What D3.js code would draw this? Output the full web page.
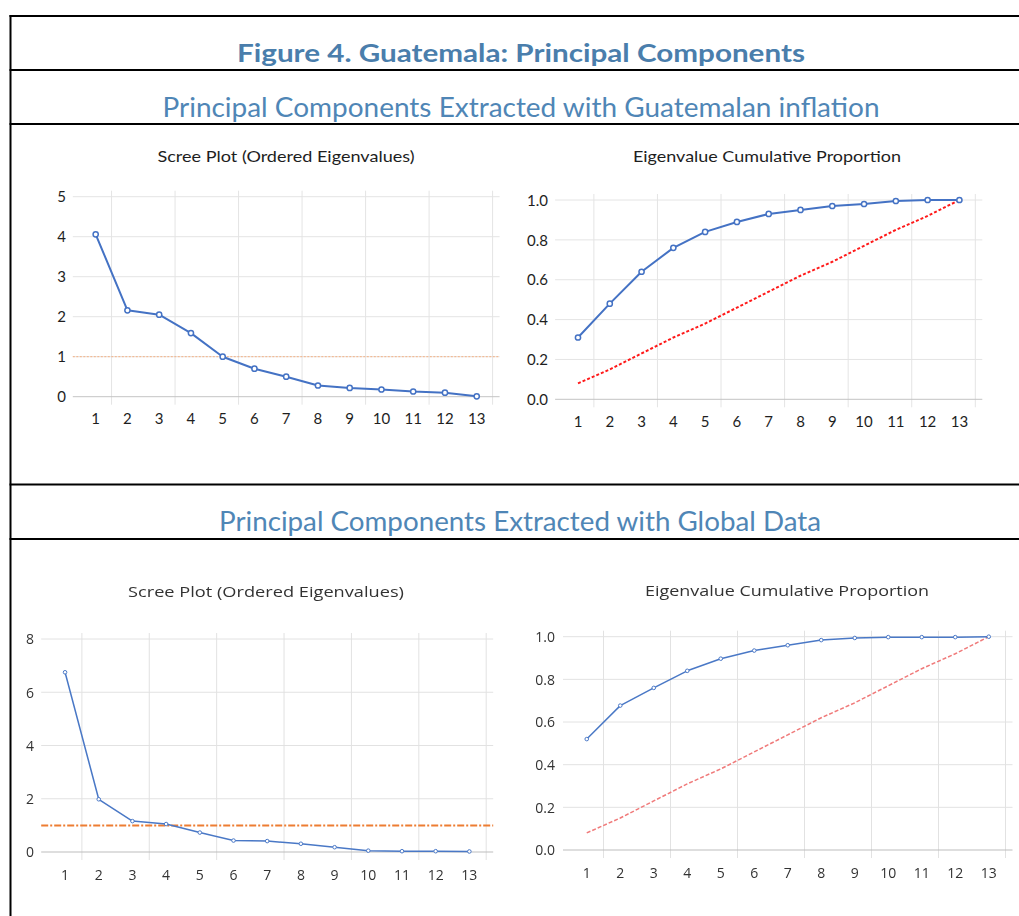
<!DOCTYPE html>
<html>
<head>
<meta charset="utf-8">
<script src="https://cdn.jsdelivr.net/npm/d3@7"></script>
<style>
  body { margin: 0; background: #ffffff; }
  svg { display: block; }
</style>
</head>
<body>
<svg id="fig" width="1019" height="916"></svg>
<script>
// ---- data ----
const components = ["1", "2", "3", "4", "5", "6", "7", "8", "9", "10", "11", "12", "13"];

// Guatemalan inflation block
const screeInflation = [4.06, 2.16, 2.05, 1.59, 1.00, 0.70, 0.50, 0.28, 0.22, 0.18, 0.13, 0.10, 0.01];
const cumInflation   = [0.31, 0.48, 0.64, 0.76, 0.84, 0.89, 0.93, 0.95, 0.97, 0.98, 0.995, 1.00, 1.00];
const equalInflation = [0.08, 0.15, 0.23, 0.31, 0.38, 0.46, 0.54, 0.62, 0.69, 0.77, 0.85, 0.92, 1.00];

// Global data block
const screeGlobal = [6.75, 1.98, 1.16, 1.05, 0.73, 0.43, 0.41, 0.31, 0.18, 0.05, 0.03, 0.03, 0.02];
const cumGlobal   = [0.52, 0.677, 0.76, 0.84, 0.897, 0.935, 0.96, 0.984, 0.994, 0.998, 0.998, 0.998, 1.00];
const equalGlobal = [0.08, 0.15, 0.23, 0.31, 0.38, 0.46, 0.54, 0.62, 0.69, 0.77, 0.85, 0.92, 1.00];

const screeTicksInflation = [0, 1, 2, 3, 4, 5];
const screeTicksGlobal    = [0, 2, 4, 6, 8];
const proportionTicks     = [0, 0.2, 0.4, 0.6, 0.8, 1.0];
const kaiserCutoff = 1;

const figureTitle = "Figure 4. Guatemala: Principal Components";
const sectionTitles = [
  "Principal Components Extracted with Guatemalan inflation",
  "Principal Components Extracted with Global Data"
];
const screeTitle = "Scree Plot (Ordered Eigenvalues)";
const cumTitle = "Eigenvalue Cumulative Proportion";

// ---- page frame ----
const svg = d3.select("#fig");
svg.append("rect").attr("width", 1019).attr("height", 916).attr("fill", "#ffffff");

const defs = svg.append("defs");
defs.append("filter").attr("id", "soft")
  .attr("x", "-5%").attr("y", "-5%").attr("width", "110%").attr("height", "110%")
  .append("feGaussianBlur").attr("stdDeviation", 0.45);

const frame = svg.append("g").attr("stroke", "#000").attr("stroke-width", 2).attr("fill", "none");
[16, 70, 124, 484.5, 539].forEach(yy => {
  frame.append("line").attr("x1", 9.5).attr("x2", 1019).attr("y1", yy).attr("y2", yy);
});
frame.append("line").attr("x1", 10.5).attr("x2", 10.5).attr("y1", 15).attr("y2", 916);

const headBlue = "#4a7eac";
svg.append("text").text(figureTitle)
  .attr("x", 521).attr("y", 62).attr("text-anchor", "middle")
  .attr("font-family", "Lato, 'Open Sans', sans-serif").attr("font-weight", 700)
  .attr("font-size", 24).attr("fill", headBlue)
  .attr("textLength", 568).attr("lengthAdjust", "spacingAndGlyphs");

svg.append("text").text(sectionTitles[0])
  .attr("x", 521).attr("y", 117).attr("text-anchor", "middle")
  .attr("font-family", "Lato, 'Open Sans', sans-serif").attr("font-weight", 400)
  .attr("font-size", 26).attr("fill", "#4f86b6")
  .attr("textLength", 717).attr("lengthAdjust", "spacingAndGlyphs");

svg.append("text").text(sectionTitles[1])
  .attr("x", 520).attr("y", 531).attr("text-anchor", "middle")
  .attr("font-family", "Lato, 'Open Sans', sans-serif").attr("font-weight", 400)
  .attr("font-size", 26).attr("fill", "#4f86b6")
  .attr("textLength", 602).attr("lengthAdjust", "spacingAndGlyphs");

// ---- one chart panel ----
function drawPanel(g, o) {
  const x = d3.scaleBand().domain(components).range([o.x0, o.x1]).padding(0);
  const y = d3.scaleLinear().domain([0, o.yMax]).range([o.y0, o.y1]);
  const bw = x.bandwidth();
  const cx = c => x(c) + bw / 2;
  const gl0 = o.x0 - o.ext, gl1 = o.x1 + o.ext;

  // chart title
  g.append("text").text(o.title)
    .attr("x", o.titleX).attr("y", o.titleY).attr("text-anchor", "middle")
    .attr("font-family", o.font).attr("font-size", o.titleSize).attr("fill", o.text)
    .attr("textLength", o.titleLen).attr("lengthAdjust", "spacingAndGlyphs");

  // horizontal gridlines
  g.append("g").selectAll("line").data(o.yTicks.filter(t => t > 0)).join("line")
    .attr("x1", gl0).attr("x2", gl1)
    .attr("y1", d => y(d)).attr("y2", d => y(d))
    .attr("stroke", o.grid).attr("stroke-width", 1);

  // vertical gridlines on every second category boundary
  const edges = components.filter((c, i) => i % 2 === 0).map(c => x(c) + bw);
  g.append("g").selectAll("line").data(edges).join("line")
    .attr("x1", d => d).attr("x2", d => d)
    .attr("y1", y(o.yMax) - 6).attr("y2", y(0) + 8)
    .attr("stroke", o.grid).attr("stroke-width", 1);

  // category axis line
  g.append("line").attr("x1", gl0).attr("x2", gl1)
    .attr("y1", y(0)).attr("y2", y(0))
    .attr("stroke", o.axis).attr("stroke-width", 1);

  // value axis labels
  const ya = g.append("g").attr("transform", `translate(${o.yLabelX},0)`)
    .call(d3.axisLeft(y).tickValues(o.yTicks).tickSize(0).tickPadding(0).tickFormat(o.fmt));
  ya.select(".domain").remove();
  ya.selectAll("text").attr("font-family", o.font).attr("font-size", o.tickSize)
    .attr("fill", o.text).attr("dy", "0.35em");

  // category axis labels
  const xa = g.append("g").attr("transform", `translate(0,${o.xLabelY})`)
    .call(d3.axisBottom(x).tickSize(0).tickPadding(0));
  xa.select(".domain").remove();
  xa.selectAll("text").attr("font-family", o.font).attr("font-size", o.tickSize)
    .attr("fill", o.text).attr("dy", "0.35em");

  // reference line (Kaiser cutoff or equal-share diagonal)
  if (o.cutoff !== undefined) {
    g.append("line").attr("x1", gl0).attr("x2", gl1)
      .attr("y1", y(o.cutoff)).attr("y2", y(o.cutoff))
      .attr("stroke", o.refColor).attr("stroke-width", o.refWidth)
      .attr("stroke-dasharray", o.refDash);
  }
  if (o.diagonal) {
    g.append("path").datum(o.diagonal)
      .attr("d", d3.line().x((d, i) => cx(components[i])).y(d => y(d)))
      .attr("fill", "none").attr("stroke", o.refColor)
      .attr("stroke-width", o.refWidth).attr("stroke-dasharray", o.refDash);
  }

  // series
  g.append("path").datum(o.values)
    .attr("d", d3.line().x((d, i) => cx(components[i])).y(d => y(d)))
    .attr("fill", "none").attr("stroke", o.line).attr("stroke-width", o.lineWidth)
    .attr("stroke-linejoin", "round");

  g.append("g").selectAll("circle").data(o.values).join("circle")
    .attr("cx", (d, i) => cx(components[i])).attr("cy", d => y(d))
    .attr("r", o.markerR).attr("fill", "#ffffff")
    .attr("stroke", o.line).attr("stroke-width", o.markerStroke);
}

const topStyle = {
  font: "Lato, 'Open Sans', sans-serif", text: "#1e1e1e", titleSize: 16, tickSize: 15,
  grid: "#e4e4e4", axis: "#c4c4c4", line: "#4472c4", lineWidth: 2,
  markerR: 2.6, markerStroke: 1.5, ext: 7
};
const bottomStyle = {
  font: "'Open Sans', 'Noto Sans', sans-serif", text: "#333333", titleSize: 15, tickSize: 14,
  grid: "#e2e2e2", axis: "#bdbdbd", line: "#4a78c6", lineWidth: 1.5,
  markerR: 1.8, markerStroke: 1, ext: 7
};

const upperBlock = svg.append("g");
drawPanel(upperBlock.append("g"), Object.assign({}, topStyle, {
  title: screeTitle, titleX: 286, titleY: 162, titleLen: 257,
  x0: 79.8, x1: 492.6, y0: 396.7, y1: 196.7, yMax: 5,
  yTicks: screeTicksInflation, fmt: d3.format("d"), yLabelX: 66, xLabelY: 419,
  values: screeInflation, cutoff: kaiserCutoff,
  refColor: "#f4b183", refWidth: 1, refDash: "2,1.5"
}));
drawPanel(upperBlock.append("g"), Object.assign({}, topStyle, {
  title: cumTitle, titleX: 767, titleY: 162, titleLen: 268,
  x0: 562.1, x1: 975.3, y0: 399.3, y1: 200, yMax: 1,
  yTicks: proportionTicks, fmt: d3.format(".1f"), yLabelX: 548, xLabelY: 422,
  values: cumInflation, diagonal: equalInflation,
  refColor: "#ff1a1a", refWidth: 2, refDash: "3,2"
}));

const lowerBlock = svg.append("g").attr("filter", "url(#soft)");
drawPanel(lowerBlock.append("g"), Object.assign({}, bottomStyle, {
  title: screeTitle, titleX: 266, titleY: 597, titleLen: 276,
  x0: 48.2, x1: 486.2, y0: 852, y1: 639, yMax: 8,
  yTicks: screeTicksGlobal, fmt: d3.format("d"), yLabelX: 34, xLabelY: 875,
  values: screeGlobal, cutoff: kaiserCutoff,
  refColor: "#ed7d31", refWidth: 2, refDash: "7,2,2,2"
}));
drawPanel(lowerBlock.append("g"), Object.assign({}, bottomStyle, {
  title: cumTitle, titleX: 787, titleY: 596, titleLen: 284,
  x0: 570, x1: 1005.5, y0: 850, y1: 636.7, yMax: 1,
  yTicks: proportionTicks, fmt: d3.format(".1f"), yLabelX: 555, xLabelY: 873.5,
  values: cumGlobal, diagonal: equalGlobal,
  refColor: "#f07a7a", refWidth: 1.5, refDash: "4,2"
}));
</script>
</body>
</html>
